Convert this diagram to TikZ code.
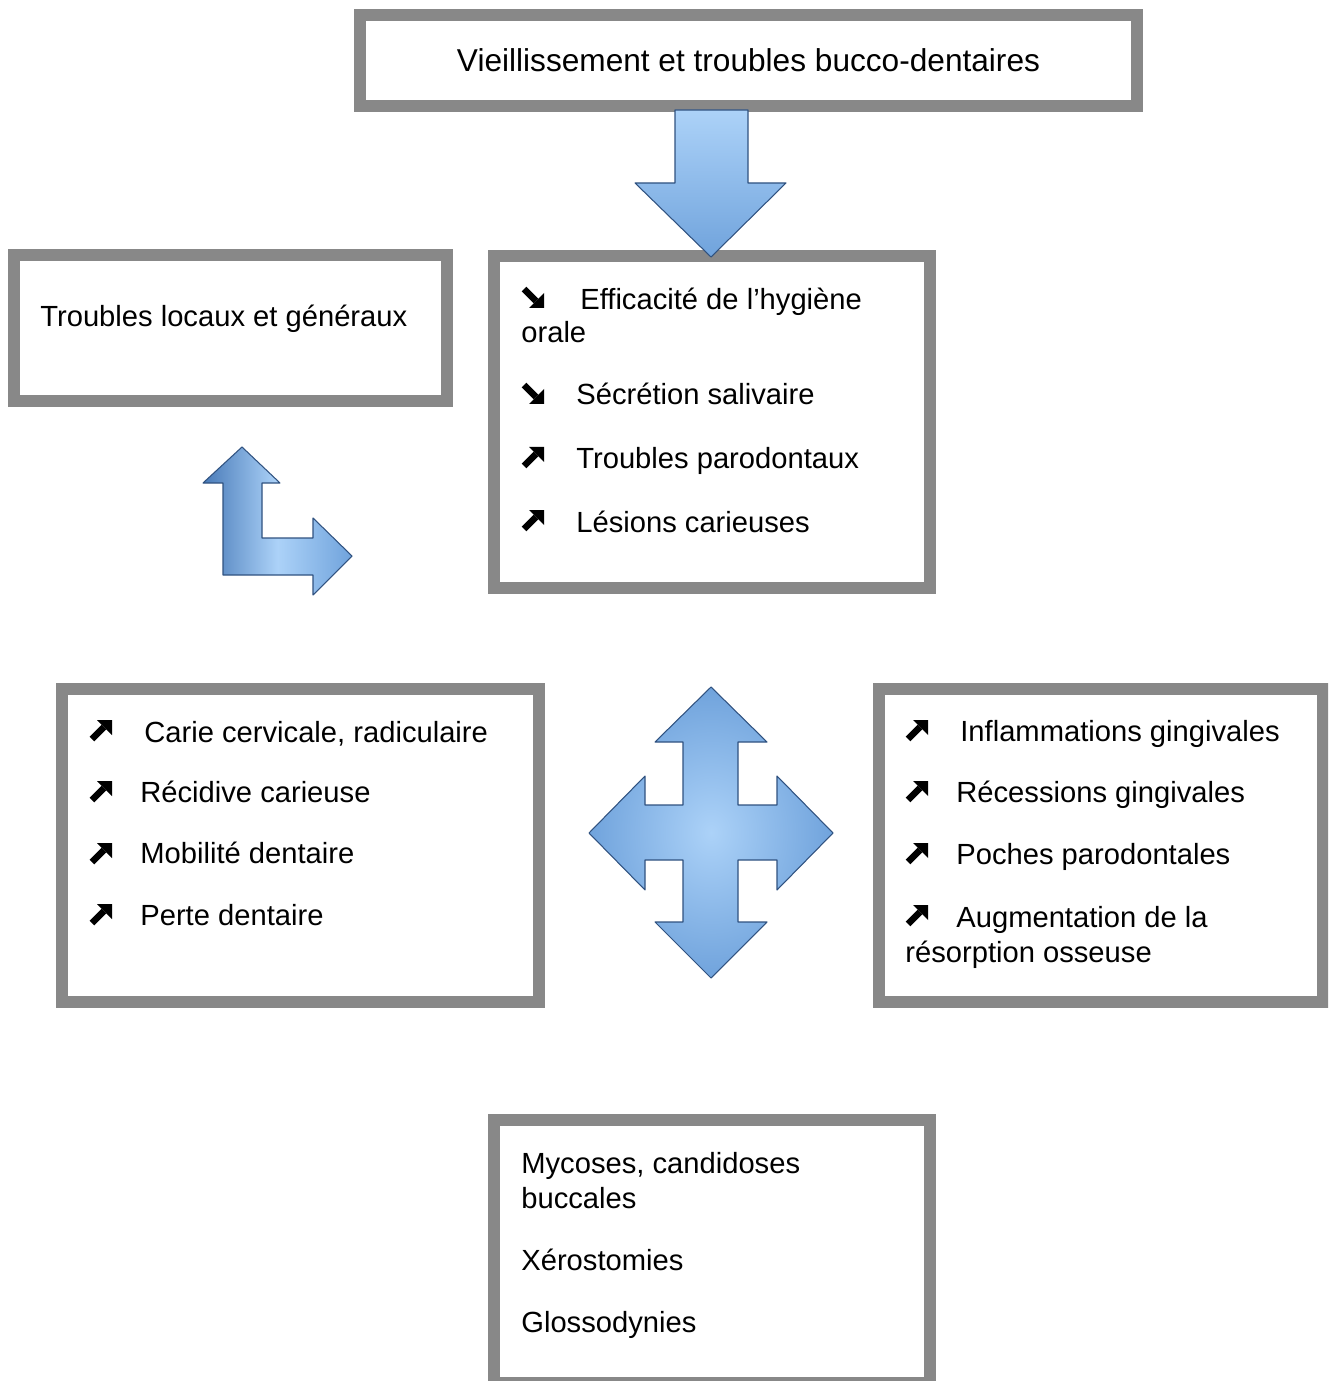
\documentclass[tikz,border=0pt]{standalone}
\usepackage{fontspec}
\setmainfont{Liberation Sans}
\usepackage{xcolor}
\usepackage{tikz}
\usetikzlibrary{shapes.geometric, arrows}
\definecolor{boxgray}{RGB}{136,136,136}
\definecolor{arrowlight}{RGB}{172,210,248}
\definecolor{arrowmid}{RGB}{112,163,220}
\definecolor{arrowdark}{RGB}{72,122,184}
\definecolor{arrowedge}{RGB}{48,82,128}
\tikzstyle{frame} = [rectangle, draw=boxgray, line width=0.24cm, fill=white, inner sep=0pt, outer sep=0pt]
\tikzstyle{item} = [anchor=base west, inner sep=0pt, font=\fontsize{16.6}{20}\selectfont]
\tikzstyle{heading} = [anchor=base, inner sep=0pt, font=\fontsize{18}{22}\selectfont]
\tikzstyle{bigarrow} = [draw=arrowedge, line width=0.6pt, line join=round]
\tikzset{
	upmark/.pic={
		\draw [line width=0.13cm] (3,-2) -- (15,-14);
		\fill (8,-21) -- (23,-21) -- (23,-6) -- cycle;
	},
	downmark/.pic={
		\draw [line width=0.13cm] (3,-19) -- (15,-7);
		\fill (8,0) -- (23,0) -- (23,-15) -- cycle;
	}
}

\begin{document}
\begin{tikzpicture}[x=0.02cm, y=-0.02cm]
		\useasboundingbox (0,0) rectangle (1328,1381);
		\clip (0,0) rectangle (1328,1381);
		
		% Frames
		\node (title) [frame, minimum width=15.54cm, minimum height=1.82cm] at (748.5,60.5) {};
		\node (locaux) [frame, minimum width=8.66cm, minimum height=2.92cm] at (230.5,328) {};
		\node (hygiene) [frame, minimum width=8.72cm, minimum height=6.64cm] at (712,422) {};
		\node (caries) [frame, minimum width=9.54cm, minimum height=6.26cm] at (300.5,845.5) {};
		\node (paro) [frame, minimum width=8.88cm, minimum height=6.26cm] at (1101,845.5) {};
		\node (muqueuses) [frame, minimum width=8.72cm, minimum height=5.26cm] at (712,1251.5) {};
		
		% Block arrows
		\draw [bigarrow, top color=arrowlight, bottom color=arrowmid]
			(675,110) -- (748,110) -- (748,183) -- (786,183) -- (711,257)
			-- (635,183) -- (675,183) -- cycle;
		\draw [bigarrow, left color=arrowdark, right color=arrowmid, middle color=arrowlight]
			(242,447) -- (280,483) -- (262,483) -- (262,538) -- (313,538) -- (313,518)
			-- (352,556) -- (313,595) -- (313,575) -- (223,575) -- (223,483) -- (203,483) -- cycle;
		\draw [bigarrow, inner color=arrowlight, outer color=arrowmid]
			(711,687) -- (767,742) -- (738,742) -- (738,805) -- (777,805) -- (777,776)
			-- (833,833) -- (777,890) -- (777,860) -- (738,860) -- (738,922) -- (767,922)
			-- (711,978) -- (655,922) -- (683,922) -- (683,860) -- (645,860) -- (645,890)
			-- (589,833) -- (645,776) -- (645,805) -- (683,805) -- (683,742) -- (655,742) -- cycle;
		
		% Texts of the upper frames
		\node (titletext) [heading] at (748.5,72) {Vieillissement et troubles bucco-dentaires};
		\node (locauxtext) [item] at (40,327) {Troubles locaux et généraux};
		
		\pic (h1) at (521,308) {downmark};
		\node (h1text) [item] at (580,310) {Efficacité de l’hygiène};
		\node (h1more) [item] at (521,343) {orale};
		\pic (h2) at (521,404) {downmark};
		\node (h2text) [item] at (576,405) {Sécrétion salivaire};
		\pic (h3) at (521,468) {upmark};
		\node (h3text) [item] at (576,468) {Troubles parodontaux};
		\pic (h4) at (521,531) {upmark};
		\node (h4text) [item] at (576,532) {Lésions carieuses};
		
		% Texts of the left frame
		\pic (c1) at (89,741) {upmark};
		\node (c1text) [item] at (144,742) {Carie cervicale, radiculaire};
		\pic (c2) at (89,802) {upmark};
		\node (c2text) [item] at (140,802) {Récidive carieuse};
		\pic (c3) at (89,864) {upmark};
		\node (c3text) [item] at (140,863) {Mobilité dentaire};
		\pic (c4) at (89,925) {upmark};
		\node (c4text) [item] at (140,925) {Perte dentaire};
		
		% Texts of the right frame
		\pic (p1) at (905,741) {upmark};
		\node (p1text) [item] at (960,741) {Inflammations gingivales};
		\pic (p2) at (905,802) {upmark};
		\node (p2text) [item] at (956,802) {Récessions gingivales};
		\pic (p3) at (905,864) {upmark};
		\node (p3text) [item] at (956,864) {Poches parodontales};
		\pic (p4) at (905,926) {upmark};
		\node (p4text) [item] at (956,927) {Augmentation de la};
		\node (p4more) [item] at (905,962) {résorption osseuse};
		
		% Texts of the bottom frame
		\node (m1) [item] at (521,1173) {Mycoses, candidoses};
		\node (m1more) [item] at (521,1208) {buccales};
		\node (m2) [item] at (521,1270) {Xérostomies};
		\node (m3) [item] at (521,1332) {Glossodynies};
		
	\end{tikzpicture}
\end{document}
